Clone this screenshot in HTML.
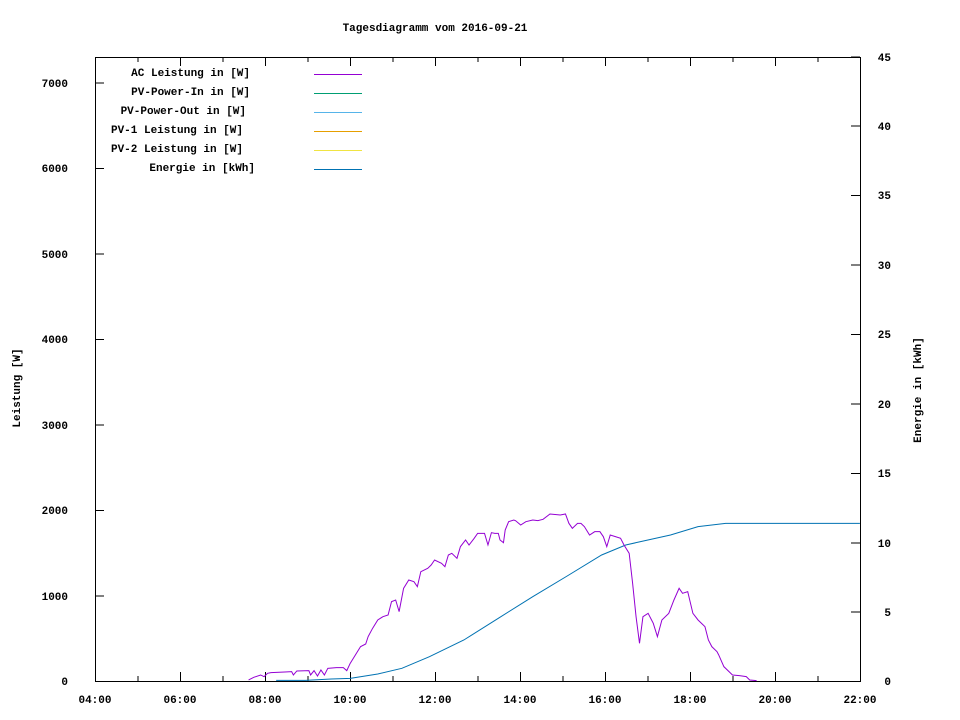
<!DOCTYPE html>
<html><head><meta charset="utf-8"><style>body{margin:0;background:#fff}svg{display:block}text{font-family:"Liberation Mono",monospace;font-size:11px;font-weight:bold;fill:#000}</style></head><body>
<svg width="960" height="720" viewBox="0 0 960 720" xmlns="http://www.w3.org/2000/svg">
<rect width="960" height="720" fill="#fff"/>
<text x="435" y="31" text-anchor="middle">Tagesdiagramm vom 2016-09-21</text>
<rect x="95.5" y="57.5" width="765" height="624" fill="none" stroke="#000" stroke-width="1"/>
<g stroke="#000" stroke-width="1">
<path d="M95 681.5h9M95 596h9M95 510.5h9M95 425h9M95 339.5h9M95 254h9M95 168.5h9M95 83h9"/>
<path d="M860 681.5h-9M860 612h-9M860 543h-9M860 473.5h-9M860 404h-9M860 334.5h-9M860 265h-9M860 195.5h-9M860 126h-9M860 57h-9"/>
<path d="M95.5 681v-9M138 681v-5M180.5 681v-9M223 681v-5M265.5 681v-9M308 681v-5M350.5 681v-9M393 681v-5M435.5 681v-9M478 681v-5M520.5 681v-9M563 681v-5M605.5 681v-9M648 681v-5M690.5 681v-9M733 681v-5M775.5 681v-9M818 681v-5M860.5 681v-9"/>
<path d="M138 57v5M180.5 57v9M223 57v5M265.5 57v9M308 57v5M350.5 57v9M393 57v5M435.5 57v9M478 57v5M520.5 57v9M563 57v5M605.5 57v9M648 57v5M690.5 57v9M733 57v5M775.5 57v9M818 57v5"/>
</g>
<g text-anchor="end">
<text x="68" y="685">0</text><text x="68" y="600">1000</text><text x="68" y="514">2000</text><text x="68" y="429">3000</text><text x="68" y="343">4000</text><text x="68" y="258">5000</text><text x="68" y="172">6000</text><text x="68" y="87">7000</text>
</g>
<g text-anchor="end">
<text x="891" y="685">0</text><text x="891" y="616">5</text><text x="891" y="547">10</text><text x="891" y="477">15</text><text x="891" y="408">20</text><text x="891" y="338">25</text><text x="891" y="269">30</text><text x="891" y="199">35</text><text x="891" y="130">40</text><text x="891" y="61">45</text>
</g>
<g text-anchor="middle">
<text x="95" y="703">04:00</text><text x="180" y="703">06:00</text><text x="265" y="703">08:00</text><text x="350" y="703">10:00</text><text x="435" y="703">12:00</text><text x="520" y="703">14:00</text><text x="605" y="703">16:00</text><text x="690" y="703">18:00</text><text x="775" y="703">20:00</text><text x="860" y="703">22:00</text>
</g>
<text transform="translate(20,388) rotate(-90)" text-anchor="middle">Leistung [W]</text>
<text transform="translate(921,390) rotate(-90)" text-anchor="middle">Energie in [kWh]</text>
<g text-anchor="end">
<text x="250" y="76">AC Leistung in [W]</text>
<text x="250" y="95">PV-Power-In in [W]</text>
<text x="246" y="114">PV-Power-Out in [W]</text>
<text x="243" y="133">PV-1 Leistung in [W]</text>
<text x="243" y="152">PV-2 Leistung in [W]</text>
<text x="255" y="171">Energie in [kWh]</text>
</g>
<g stroke-width="1">
<path d="M314 74.5h48" stroke="#9400d3"/>
<path d="M314 93.5h48" stroke="#009e73"/>
<path d="M314 112.5h48" stroke="#56b4e9"/>
<path d="M314 131.5h48" stroke="#e69f00"/>
<path d="M314 150.5h48" stroke="#f0e442"/>
<path d="M314 169.5h48" stroke="#0072b2"/>
</g>
<g transform="translate(240,500) scale(0.3444,0.3333)" fill="none">
<path vector-effect="non-scaling-stroke" stroke="#0072b2" stroke-width="1" d="M105 541L190 541L265 537L320 535L400 522L470 505L550 470L650 420L750 355L850 290L950 228L1050 165L1120 135L1150 128L1250 105L1330 80L1410 70L1800 70"/>
<path vector-effect="non-scaling-stroke" stroke="#9400d3" stroke-width="1" d="M25 540L40 532L60 525L70 530L80 520L90 518L130 516L150 515L155 525L165 513L200 512L205 525L215 512L225 528L235 510L245 525L255 505L280 503L300 503L310 512L320 490L335 465L350 440L365 432L372 410L385 385L400 360L415 350L430 345L440 305L452 300L462 335L475 265L490 240L505 245L515 260L525 215L545 205L555 195L565 180L585 190L595 200L605 165L615 160L630 175L640 140L655 120L665 135L680 115L690 100L710 100L720 135L730 98L740 100L750 100L755 120L765 128L770 90L780 65L795 60L800 62L815 75L830 65L850 60L865 62L880 58L900 42L930 45L945 42L955 70L965 85L980 70L990 70L1000 80L1015 105L1030 95L1045 95L1055 110L1065 140L1075 105L1090 110L1105 115L1115 135L1130 160L1140 250L1150 350L1160 430L1170 350L1185 340L1195 360L1200 370L1212 410L1225 360L1245 340L1260 300L1275 265L1285 280L1300 275L1315 340L1330 360L1350 380L1360 420L1370 440L1385 455L1390 465L1405 500L1430 525L1450 527L1470 530L1480 540L1500 542"/>
</g>
</svg>
</body></html>
